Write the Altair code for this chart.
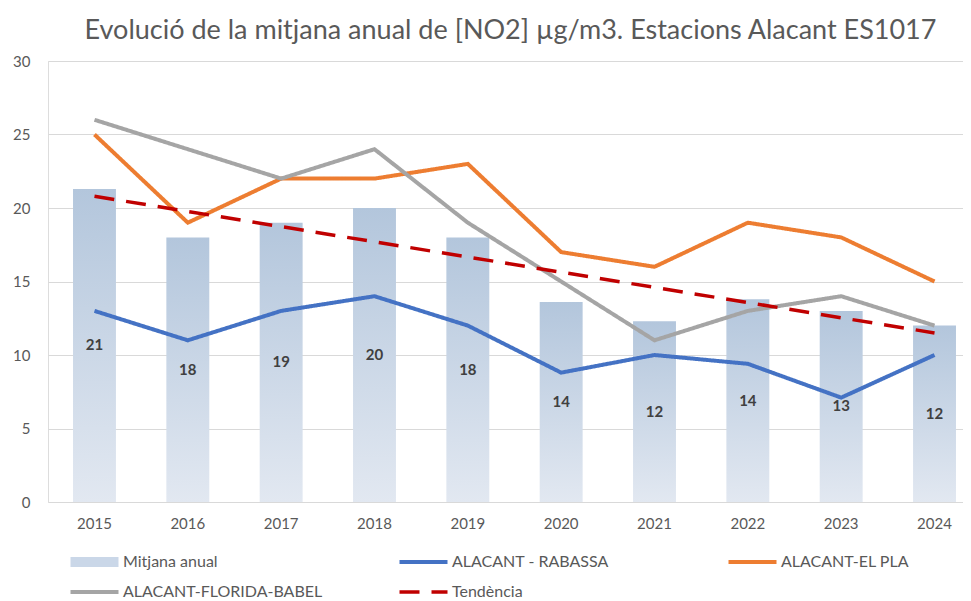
import altair as alt
import pandas as pd

years = ["2015", "2016", "2017", "2018", "2019", "2020", "2021", "2022", "2023", "2024"]
mitjana = [21.3, 18.0, 19.0, 20.0, 18.0, 13.6, 12.3, 13.8, 13.0, 12.0]
rabassa = [13.0, 11.0, 13.0, 14.0, 12.0, 8.8, 10.0, 9.4, 7.1, 10.0]
el_pla = [25.0, 19.0, 22.0, 22.0, 23.0, 17.0, 16.0, 19.0, 18.0, 15.0]
florida = [26.0, 24.0, 22.0, 24.0, 19.0, 15.0, 11.0, 13.0, 14.0, 12.0]
trend_years = ["2015", "2024"]
trend_vals = [20.8, 11.5]

series = ["Mitjana anual", "ALACANT - RABASSA", "ALACANT-EL PLA",
          "ALACANT-FLORIDA-BABEL", "Tendència"]
colors = ["#CAD7E8", "#4472C4", "#ED7D31", "#A5A5A5", "#C00000"]
dashes = [[1, 0], [1, 0], [1, 0], [1, 0], [20, 12]]
widths = [10, 4, 4, 4, 3.5]

FONT = "Lato"
GREY = "#595959"

bars_df = pd.DataFrame({"year": years, "value": mitjana, "serie": series[0]})
lines_df = pd.concat(
    [pd.DataFrame({"year": years, "value": v, "serie": s})
     for s, v in zip(series[1:4], [rabassa, el_pla, florida])]
    + [pd.DataFrame({"year": trend_years, "value": trend_vals, "serie": series[4]})],
    ignore_index=True,
)

x_enc = alt.X(
    "year:O",
    scale=alt.Scale(domain=years, range=[0, 933], paddingInner=0.54, paddingOuter=0.268),
    axis=alt.Axis(title=None, labelAngle=0, ticks=False, domain=False, grid=False,
                  labelFont=FONT, labelFontSize=15, labelColor=GREY, labelPadding=14),
)
y_scale = alt.Scale(domain=[0, 30], nice=False)
y_axis = alt.Axis(title=None, values=[0, 5, 10, 15, 20, 25, 30], ticks=False, domain=False,
                  grid=True, gridColor="#D9D9D9", gridWidth=1,
                  labelFont=FONT, labelFontSize=15, labelColor=GREY, labelPadding=18)

legend = alt.Legend(
    title=None, orient="none", legendX=17, legendY=493, columns=3, direction="horizontal",
    gridAlign="all", symbolType="M-1,0H18.2", symbolSize=25, clipHeight=16,
    labelFont=FONT, labelFontSize=16, labelColor=GREY, labelOffset=42, labelLimit=300,
    columnPadding=71, rowPadding=14,
)
color_enc = alt.Color("serie:N", scale=alt.Scale(domain=series, range=colors), legend=legend)
dash_enc = alt.StrokeDash("serie:N", scale=alt.Scale(type="ordinal", domain=series, range=dashes),
                          legend=legend)
width_enc = alt.StrokeWidth("serie:N", scale=alt.Scale(type="ordinal", domain=series, range=widths),
                            legend=legend)

gradient = {
    "gradient": "linear", "x1": 0, "y1": 0, "x2": 0, "y2": 1,
    "stops": [{"offset": 0, "color": "#B3C6DC"}, {"offset": 1, "color": "#E2E8F1"}],
}

bars = alt.Chart(bars_df).mark_bar().encode(
    x=x_enc,
    y=alt.Y("value:Q", scale=y_scale, axis=y_axis),
    color=color_enc,
    fill=alt.value(gradient),
)

labels = alt.Chart(bars_df).transform_calculate(half="datum.value / 2").mark_text(
    font=FONT, fontSize=15, fontWeight="bold", color="#404040"
).encode(
    x=x_enc,
    y=alt.Y("half:Q", scale=y_scale),
    text=alt.Text("value:Q", format=".0f"),
)

lines = alt.Chart(lines_df).mark_line().encode(
    x=x_enc,
    y=alt.Y("value:Q", scale=y_scale),
    color=color_enc,
    strokeDash=dash_enc,
    strokeWidth=width_enc,
    detail="serie:N",
)

chart = alt.layer(bars, labels, lines).properties(
    width=915,
    height=441,
    autosize=alt.AutoSizeParams(type="none"),
    padding={"left": 40, "top": 53, "right": 0, "bottom": 99},
    title=alt.TitleParams(
        "Evolució de la mitjana anual de [NO2] µg/m3. Estacions Alacant ES1017",
        font=FONT, fontSize=27, fontWeight="normal", color=GREY,
        anchor="middle", offset=9, dx=5,
    ),
).configure_view(stroke=None).configure(background="white")

chart.save("out.html", embed_options={"renderer": "svg", "actions": False})
